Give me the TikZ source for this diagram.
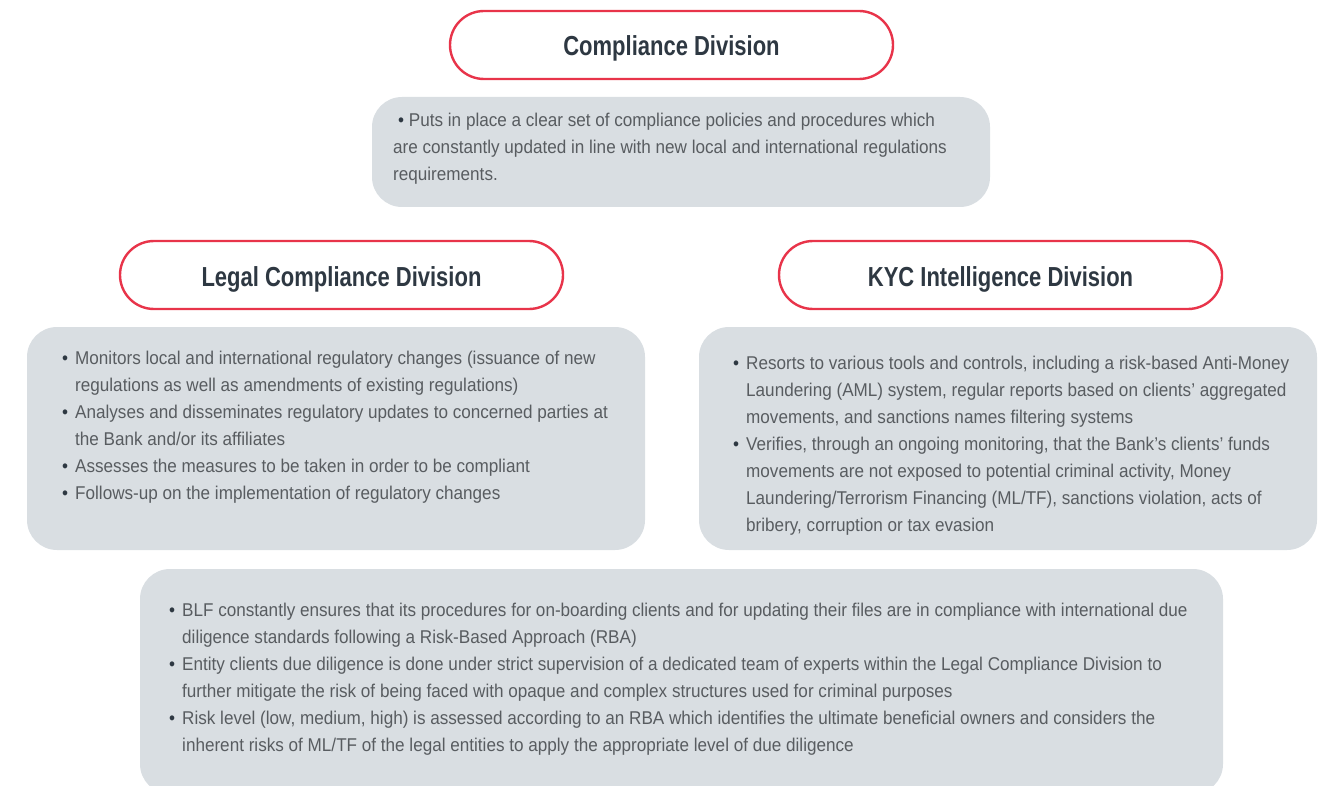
\documentclass[tikz,border=0pt]{standalone}
\usepackage{fontspec}
\setmainfont{Liberation Sans}[FakeStretch=0.925]
\newfontfamily\headfont{Liberation Sans}[FakeStretch=0.8]
\usetikzlibrary{positioning}
\definecolor{crimson}{RGB}{232,52,74}
\definecolor{mist}{RGB}{217,222,226}
\definecolor{slate}{RGB}{46,56,66}
\definecolor{graphite}{RGB}{88,92,96}
\newcommand{\bul}{\strut\makebox[13pt][l]{\textcolor{slate}{\textbullet}}}
\newcommand{\hang}{\hspace*{13pt}}
\tikzset{
  x=1pt,y=-1pt,
  head/.style={draw=crimson,line width=2.4pt,fill=white,rounded corners=34pt,
    minimum width=443pt,minimum height=68pt,text=slate,
    text height=22pt,text depth=0pt,
    font=\headfont\bfseries\fontsize{27.5}{32}\selectfont},
  panel/.style={fill=mist,rounded corners=30pt,inner sep=0pt},
  notes/.style={anchor=north west,align=left,inner sep=0pt,text=graphite,
    font=\fontsize{18.5}{27}\selectfont},
}
\begin{document}
\begin{tikzpicture}
  \useasboundingbox (0,0) rectangle (1324,786);
  \begin{scope}
  \clip (0,0) rectangle (1324,786);
  % headings
  \node[head] (compliance) at (671.5,45) {Compliance Division};
  \node[head] (legal) at (341.5,275) {Legal Compliance Division};
  \node[head] (kyc) at (1000.5,275) {KYC Intelligence Division};
  % grey panels
  \node[panel,minimum width=618pt,minimum height=110pt] (topbox) at (681,152) {};
  \node[panel,minimum width=618pt,minimum height=223pt] (legalbox) at (336,438.5) {};
  \node[panel,minimum width=618pt,minimum height=223pt] (kycbox) at (1008,438.5) {};
  \node[panel,minimum width=1083pt,minimum height=225pt] (basebox) at (681.5,681.5) {};
  \end{scope}
  % panel texts
  \node[notes] (toptext) at (393,107.1) {\strut\hspace*{5pt}\textcolor{slate}{\textbullet}\ Puts in place a clear set of compliance policies and procedures which\\
    are constantly updated in line with new local and international regulations\\
    requirements.};
  \node[notes] (legaltext) at (62,345.1) {\bul Monitors local and international regulatory changes (issuance of new\\
    \hang regulations as well as amendments of existing regulations)\\
    \bul Analyses and disseminates regulatory updates to concerned parties at\\
    \hang the Bank and/or its affiliates\\
    \bul Assesses the measures to be taken in order to be compliant\\
    \bul Follows-up on the implementation of regulatory changes};
  \node[notes] (kyctext) at (733,350.1) {\bul Resorts to various tools and controls, including a risk-based Anti-Money\\
    \hang Laundering (AML) system, regular reports based on clients’ aggregated\\
    \hang movements, and sanctions names filtering systems\\
    \bul Verifies, through an ongoing monitoring, that the Bank’s clients’ funds\\
    \hang movements are not exposed to potential criminal activity, Money\\
    \hang Laundering/Terrorism Financing (ML/TF), sanctions violation, acts of\\
    \hang bribery, corruption or tax evasion};
  \node[notes] (basetext) at (169,597.1) {\bul BLF constantly ensures that its procedures for on-boarding clients and for updating their files are in compliance with international due\\
    \hang diligence standards following a Risk-Based Approach (RBA)\\
    \bul Entity clients due diligence is done under strict supervision of a dedicated team of experts within the Legal Compliance Division to\\
    \hang further mitigate the risk of being faced with opaque and complex structures used for criminal purposes\\
    \bul Risk level (low, medium, high) is assessed according to an RBA which identifies the ultimate beneficial owners and considers the\\
    \hang inherent risks of ML/TF of the legal entities to apply the appropriate level of due diligence};
\end{tikzpicture}
\end{document}
